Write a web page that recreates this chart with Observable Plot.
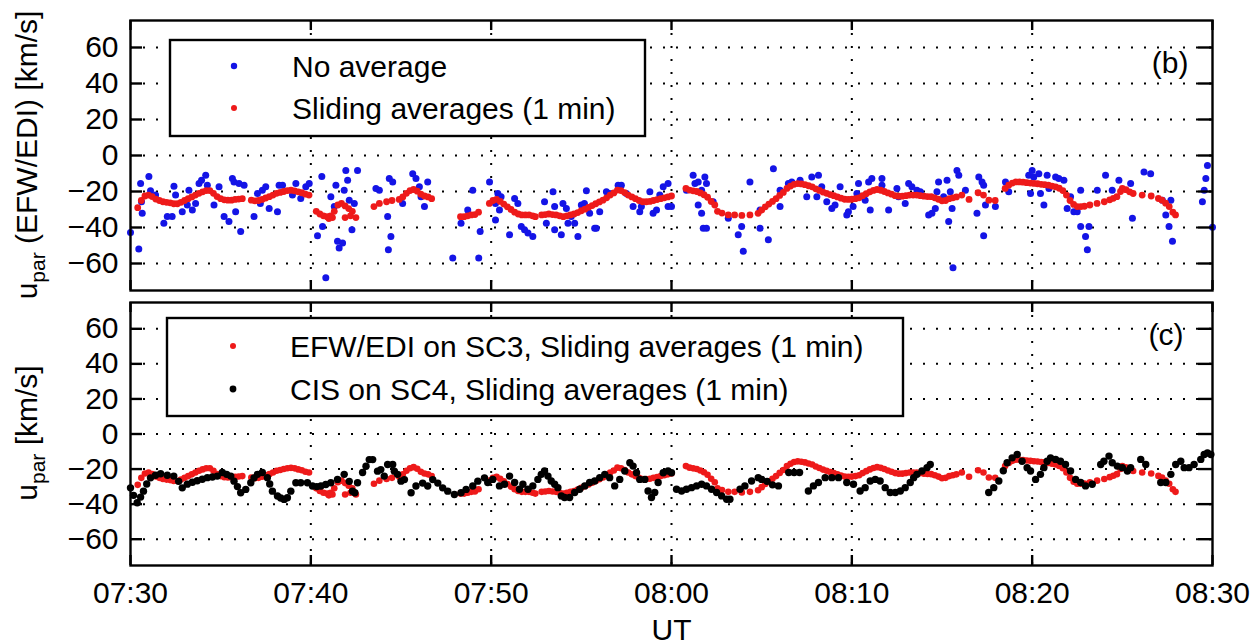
<!DOCTYPE html>
<html><head><meta charset="utf-8">
<script src="https://cdn.jsdelivr.net/npm/d3@7"></script>
<script src="https://cdn.jsdelivr.net/npm/@observablehq/plot@0.6"></script>
<style>
body{margin:0;background:#fff;font-family:"Liberation Sans",Arial,sans-serif;}
#wrap{position:relative;width:1259px;height:644px;background:#fff;}
#p1{position:absolute;left:0;top:0;}
#p2{position:absolute;left:0;top:300px;}
</style></head><body><div id="wrap"><div id="p1"></div><div id="p2"></div></div>
<script>
// ---- axis ticks / labels ----
const xTicks = [0, 10, 20, 30, 40, 50, 60];                 // minutes after 07:30 UT
const xTickLabels = ["07:30", "07:40", "07:50", "08:00", "08:10", "08:20", "08:30"];
const yTicks = [-60, -40, -20, 0, 20, 40, 60];
const seriesB = ["No average", "Sliding averages (1 min)"];
const seriesC = ["EFW/EDI on SC3, Sliding averages (1 min)", "CIS on SC4, Sliding averages (1 min)"];
const panelLabels = ["(b)", "(c)"];
const xLabel = "UT";

// ---- EFW/EDI, no average (minutes after 07:30, km/s) ----
const rawT = [0.0,0.46,0.56,0.61,0.65,1.02,1.11,1.39,1.85,2.04,2.31,2.41,2.5,2.87,3.15,3.24,3.43,3.61,3.8,3.94,4.17,4.26,4.63,4.91,5.19,5.46,5.65,5.74,5.83,6.02,6.11,6.3,6.85,7.04,7.2,7.31,7.5,7.69,8.15,8.24,8.43,8.98,9.17,9.44,9.72,9.91,
10.37,10.61,10.65,10.83,11.11,11.3,11.39,11.48,11.57,11.76,11.85,11.94,12.04,12.13,12.28,12.41,12.59,13.61,13.8,14.26,14.35,14.44,14.3,14.54,15.09,15.65,15.83,16.02,16.11,16.3,16.48,17.87,18.33,18.7,18.98,19.31,19.39,19.91,
20.24,20.24,20.37,20.46,20.55,21.02,21.3,21.48,21.67,21.85,22.04,22.31,22.96,23.06,23.43,23.52,23.52,23.89,23.98,24.17,24.26,24.44,24.63,24.81,25.0,25.17,25.28,25.46,25.74,25.83,26.02,26.39,26.57,27.04,27.22,27.5,27.87,28.24,28.33,28.8,28.98,29.17,29.35,29.54,29.81,29.81,
30.0,30.83,31.2,31.3,31.48,31.67,31.85,31.94,31.48,31.67,31.76,31.94,32.31,33.15,33.7,33.89,33.98,34.35,34.91,34.91,35.37,35.65,36.02,36.02,36.48,36.67,37.13,37.5,37.78,38.06,38.15,38.33,38.61,38.89,39.07,39.35,39.72,39.81,
40.07,40.28,40.37,40.74,40.93,41.02,41.11,41.67,41.67,42.04,42.5,42.59,42.96,43.15,43.33,43.61,43.8,44.26,44.44,44.63,44.72,44.81,45.09,45.28,45.37,45.46,45.56,45.61,45.83,45.93,46.3,46.94,47.04,47.22,47.31,47.41,47.31,47.96,48.52,48.7,
49.81,50.0,50.09,50.37,49.91,50.46,50.65,50.83,50.93,51.3,51.48,51.76,51.94,52.13,52.31,52.5,52.69,52.69,52.96,53.06,53.15,53.61,54.07,54.44,54.81,55.46,55.56,56.2,56.57,57.22,57.41,57.59,57.69,57.78,59.44,59.54,59.63,59.72,60.0];
const rawV = [-42.8,-51.9,-15.6,-25.7,-32.1,-11.6,-19.6,-22,-37.6,-33.9,-33.9,-17.1,-22,-31.2,-27.5,-19.3,-30.3,-26.6,-15.6,-13.8,-11,-16.5,-27.5,-17.4,-33.9,-36.7,-12.8,-14.7,-31.2,-15.6,-42.2,-16.5,-33.9,-21.1,-26.6,-19.3,-17.4,-29.4,-31.2,-16.5,-16.5,-22,-15.6,-23.9,-17.4,-15.6,
-44.6,-11.6,-39.5,-67.9,-22.9,-28.4,-16.5,-47.7,-51.4,-48.6,-19.3,-8.3,-13.8,-24.8,-41.3,-26.6,-8.3,-18.4,-19.3,-33.9,-12.8,-45,-52.3,-14.7,-26.6,-10.1,-12.8,-17.4,-22.9,-28.4,-14.7,-56.9,-37.6,-30.3,-19.3,-56.9,-42.2,-14.7,
-26.6,-35.8,-21.1,-30.3,-22.9,-44,-23.9,-26.6,-39.5,-41.3,-43.1,-45,-25.7,-37.6,-20.2,-28.4,-41.3,-44,-26.6,-29.4,-37.6,-33.9,-37.6,-45,-27.5,-26.6,-19.6,-32.1,-40.4,-40.4,-31.2,-20.2,-21.1,-16.5,-16.5,-21.1,-28.4,-31.2,-28.4,-20.2,-32.1,-30.3,-22,-17.4,-15.6,-28.4,
-28.4,-19.3,-11,-15.6,-14.7,-19.3,-11.9,-15.6,-27.5,-32.1,-40.4,-40.4,-25.7,-34.9,-44,-39.5,-53.2,-14.7,-40.4,-30.3,-46.8,-7.3,-19.3,-28.4,-15.6,-14.7,-13.8,-22.9,-11.9,-22.9,-11,-17.4,-25.7,-29.4,-27.5,-17.4,-33,-31.2,
-28.4,-21.1,-15.6,-24.8,-14.7,-30.3,-12.8,-12.8,-16.5,-30.3,-18.3,-22.9,-26.6,-15.6,-17.4,-19.3,-20.2,-33,-32.1,-29.4,-20.2,-14.7,-22.9,-13.8,-36.7,-20.2,-29.4,-62.4,-8.3,-11,-19.3,-32.1,-11.9,-14.7,-16.5,-27.5,-44.6,-28.4,-14.7,-20.2,
-11,-8.3,-11.9,-10.1,-21.1,-21.1,-27.5,-11,-18.3,-11.9,-12.8,-13.8,-29.4,-22.9,-31.2,-31.2,-19.3,-39.5,-45,-52.3,-39.5,-19.3,-11,-19.3,-13.8,-15.6,-34.9,-9.2,-10.1,-24.8,-33,-39.5,-24.8,-47.7,-25.7,-19.3,-12.8,-5.5,-39.8];

// ---- EFW/EDI on SC3, sliding averages (1 min) ----
const avgT = [0.4,0.6,0.8,1.0,1.2,1.4,1.6,1.8,2.0,2.2,2.4,2.6,2.8,3.0,3.2,3.4,3.6,3.8,4.0,4.2,4.4,4.6,4.8,5.0,5.2,5.4,5.6,5.8,6.0,6.2,
6.7,6.9,7.1,7.3,7.5,7.7,7.9,8.1,8.3,8.5,8.7,8.9,9.1,9.3,9.5,9.7,9.9,
10.3,10.5,10.7,10.9,11.1,11.3,11.5,11.7,11.9,12.1,12.3,12.5,11.0,11.2,11.9,12.2,
13.5,13.8,14.2,14.5,14.9,15.1,15.3,15.5,15.7,15.9,16.1,16.3,16.5,16.7,
18.3,18.5,18.7,18.9,19.1,19.3,
19.9,20.1,20.3,20.5,20.7,20.9,21.1,21.3,21.5,21.7,21.9,22.1,22.3,22.45,
22.8,23.0,23.2,23.4,23.6,23.8,24.0,24.2,24.4,24.6,24.8,25.0,25.2,25.4,25.6,25.8,26.0,26.2,26.4,26.6,26.8,27.0,27.2,27.4,27.6,27.8,28.0,28.2,28.4,28.6,28.8,29.0,29.2,29.4,29.6,29.8,30.0,
30.8,31.0,31.2,31.4,31.6,31.8,32.0,32.2,32.4,32.55,32.8,33.15,33.5,33.9,34.35,34.8,35.0,35.2,35.4,35.6,35.8,36.0,36.2,36.4,36.6,36.8,37.0,37.2,37.4,37.6,37.8,38.0,38.2,38.4,38.6,38.8,39.0,39.2,39.4,39.6,39.8,40.0,40.2,
40.4,40.6,40.8,41.0,41.2,41.4,41.6,41.8,42.0,42.2,42.4,42.6,42.8,43.0,43.2,43.4,43.6,43.8,44.0,44.2,44.4,44.6,44.8,45.0,45.2,45.4,45.6,45.8,46.1,46.5,47.0,47.3,47.6,47.95,
48.5,48.7,48.9,49.1,49.3,49.5,49.7,49.9,50.1,50.3,50.5,50.7,50.9,51.1,51.3,51.5,51.7,51.9,52.1,52.3,52.5,52.7,52.9,53.2,53.6,54.0,54.3,54.5,54.7,54.9,55.0,55.2,55.4,55.6,56.1,56.6,57.0,57.2,57.4,57.6,57.8,57.95];
const avgV = [-29,-25,-22.5,-22,-22.8,-24.2,-25,-25.7,-26,-26.3,-26.8,-26.8,-26,-25,-24,-23,-22,-21,-20.2,-19.5,-19.5,-21,-22.8,-24,-24.6,-24.8,-24.8,-24.4,-24.2,-24,
-24.8,-25.2,-25,-24.4,-23.6,-22.9,-22,-21,-20.5,-20,-19.5,-19.3,-19.6,-20.2,-20.7,-21.5,-22,
-31,-32.5,-33.5,-34,-33.5,-31,-27.5,-26.6,-28,-29.5,-31,-34.5,-35,-34.5,-34.5,-33.5,
-28.4,-26.6,-25.7,-25,-24.4,-23,-21,-19.5,-18.9,-19.8,-21.5,-22.5,-23,-24,
-34,-34,-33.5,-33,-32.8,-31.5,
-26.6,-25,-24.4,-25.5,-27,-28.5,-30,-31.5,-32.5,-33,-33,-33,-33.5,-34,
-33,-32.8,-32.5,-32.8,-33,-33.5,-34,-33.5,-33,-32.5,-31.7,-30.7,-29.8,-28.8,-27.8,-26.8,-25.8,-24.8,-23.5,-22,-20.8,-19.2,-19.5,-20.6,-22,-23,-24,-25,-25.7,-25.7,-25.5,-25,-24.5,-24,-23.5,-23,-22.5,
-18.3,-19.2,-19.6,-20,-20.8,-21.8,-23.2,-25.5,-27.5,-31,-32,-33,-33,-33.3,-33,-32.1,-30.3,-28.5,-27,-25.5,-24,-22.2,-20.5,-18.3,-17,-16,-15.6,-15.8,-16.2,-16.8,-17.4,-18.5,-19.4,-20.3,-21,-21.7,-22.3,-23,-23.7,-24.3,-24.4,-24.3,-24,
-23.5,-22.3,-21.2,-20.2,-19.4,-18.9,-19.3,-20,-20.8,-21.5,-22.3,-22.6,-22.6,-22.3,-22,-22,-22,-22.3,-22.6,-22.8,-22.9,-23.5,-24.3,-25.2,-25,-24,-23.5,-23,-22,-24.4,-20.7,-22,-24.8,-25,
-18.3,-16.5,-15.3,-14.7,-14.7,-14.8,-15.1,-15.3,-15.5,-15.7,-16,-16.2,-16.5,-17,-17.4,-18.2,-19.5,-22,-25,-27.2,-28.4,-28.4,-28.2,-27.5,-26.6,-25.7,-24.6,-23.8,-22.9,-20,-18.3,-19,-20.2,-21.1,-22,-22.5,-23.9,-24.8,-26.5,-28.4,-31.5,-33];

// ---- CIS on SC4, sliding averages (1 min) ----
const cisT = [0,0.17,0.37,0.56,0.72,0.9,1.11,1.39,1.67,2.04,2.4,2.67,2.87,3.15,3.43,3.7,3.98,4.26,4.54,4.81,5.09,5.33,5.56,5.74,5.93,6.11,6.39,6.67,6.85,7.04,7.31,7.59,7.72,7.87,8.15,8.33,8.52,8.7,8.89,9.17,9.44,9.81,
10.09,10.33,10.56,10.83,11.11,11.48,11.85,12.13,12.31,12.44,12.59,12.87,13.06,13.24,13.43,13.7,13.88,14.07,14.26,14.54,14.63,14.81,15.0,15.19,15.56,15.83,16.2,16.48,16.76,17.04,17.31,17.59,17.96,18.33,18.61,18.98,19.26,19.63,19.81,
20.09,20.46,20.74,21.02,21.3,21.57,21.76,22.04,22.31,22.59,22.78,22.96,23.15,23.33,23.52,23.7,23.89,24.07,24.35,24.63,24.91,25.19,25.46,25.74,26.02,26.3,26.57,26.85,27.13,27.41,27.69,27.87,28.06,28.24,28.52,28.7,28.89,29.07,29.26,29.54,29.81,
30.0,30.28,30.56,30.83,31.11,31.39,31.67,31.94,32.22,32.5,32.78,33.06,33.24,33.8,34.07,34.44,34.81,35.0,35.3,35.6,35.93,36.5,36.8,37.1,37.59,37.87,38.15,38.52,38.89,39.26,39.72,
40.09,40.46,40.74,41.02,41.3,41.57,41.85,42.13,42.41,42.69,42.96,43.24,43.43,43.61,43.89,44.17,44.35,47.59,47.87,48.15,48.4,48.61,48.89,49.17,49.44,49.72,49.91,
50.19,50.46,50.65,50.83,51.02,51.3,51.57,51.85,52.13,52.41,52.69,52.96,53.33,53.8,53.98,54.26,54.44,54.72,55.0,55.28,55.46,56.02,56.3,57.13,57.41,57.69,57.96,58.24,58.43,58.7,58.98,59.35,59.54,59.72,59.91];
const cisV = [-30.7,-35,-39.2,-36,-32.6,-28.5,-25,-23.5,-22.7,-23.5,-24,-27,-30.7,-28.6,-27.5,-26.7,-25.8,-24.9,-24.5,-24,-22,-23,-24,-26.9,-30,-33.5,-31.6,-27.8,-25,-23,-22,-24.9,-28.5,-32.6,-35.4,-36.5,-37.3,-36.4,-32.6,-27.8,-27.8,-27.8,
-29.7,-30,-29.7,-28.8,-27.8,-25.9,-23,-27,-32.6,-33.5,-27.8,-22,-18.4,-14.6,-14.6,-21.2,-20.3,-24,-17.4,-17.4,-21.2,-23,-26.9,-26,-33.5,-29.7,-28,-29.7,-26,-28,-30.7,-32.6,-34.5,-33.5,-31.6,-29.7,-26.9,-25,-27.7,
-25.9,-29.6,-28.7,-24,-27.7,-31.5,-28.7,-31.5,-29.6,-25.9,-23,-21.1,-24,-26.8,-28.7,-30.6,-35.3,-36.2,-36.2,-33.4,-31.5,-29.6,-27.7,-26.8,-24.9,-23,-24.9,-29.6,-25.9,-21.1,-16.4,-18.3,-22.1,-25.9,-25.9,-32.5,-36.2,-33.4,-27.7,-22.1,-21.1,
-22.1,-31.5,-32.5,-31.5,-30.6,-29.6,-28.7,-29.6,-31.5,-33.4,-35.3,-37.2,-37.2,-31.5,-29.6,-26.8,-24.9,-25.9,-27,-29,-29.6,-22,-22,-22,-32.5,-29.6,-27.7,-24.9,-24.9,-24.9,-27.7,
-28.7,-32.5,-30.6,-26.8,-25.9,-26.8,-30.6,-33.4,-33.4,-32.5,-30.6,-27.7,-24.9,-23,-21.1,-19.2,-17.4,-33.4,-30.6,-26.8,-21,-16.4,-13.6,-11.7,-15.5,-19.2,-21.1,
-25.9,-23,-19.2,-15.5,-13.6,-14.5,-15.5,-17.4,-21.1,-25.9,-27.7,-29.6,-28.7,-17.4,-15.5,-12.6,-16.4,-18.3,-19.2,-21.1,-19.2,-14.5,-17.4,-27.7,-27.7,-23,-17.4,-15.5,-19.2,-19.2,-17.4,-14.5,-11.7,-10.8,-11.7];

const raw = rawT.map((t, i) => ({t, v: rawV[i]}));
const avg = avgT.map((t, i) => ({t, v: avgV[i]}));
const cis = cisT.map((t, i) => ({t, v: cisV[i]}));

const BLUE = "#1414e6", RED = "#ee1a1a", BLACK = "#000";
const FONT = "'Liberation Sans', Arial, Helvetica, sans-serif";
const W = 1259, ML = 130, MR = 47, PW = W - ML - MR;
const dotted = {stroke: "#000", strokeWidth: 2, strokeDasharray: "2,11"};

function panel(h, mt, mb, marks, extra) {
  const ph = h - mt - mb;
  return Plot.plot({
    width: W, height: h, marginTop: mt, marginBottom: mb, marginLeft: ML, marginRight: MR,
    style: {background: "#fff", fontFamily: FONT, fontSize: "30px", color: "#000", overflow: "visible"},
    x: {domain: [0, 60], axis: extra ? undefined : null},
    y: {domain: [-75, 75]},
    marks: [
      Plot.ruleY(yTicks, {y: d => d, ...dotted}),
      Plot.ruleX(xTicks.slice(1, -1), {x: d => d, ...dotted}),
      ...marks,
      Plot.frame({stroke: "#000", strokeWidth: 2.4}),
      Plot.tickY(yTicks, {y: d => d, stroke: "#000", strokeWidth: 2.4, insetRight: PW - 12}),
      Plot.tickY(yTicks, {y: d => d, stroke: "#000", strokeWidth: 2.4, insetLeft: PW - 14}),
      Plot.tickX(xTicks, {x: d => d, stroke: "#000", strokeWidth: 2.4, insetTop: ph - 10}),
      Plot.tickX(xTicks, {x: d => d, stroke: "#000", strokeWidth: 2.4, insetBottom: ph - 10}),
      Plot.axisY({ticks: yTicks, tickSize: 0, tickPadding: 12, label: null, fill: "#000"}),
      ...(extra || [])
    ]
  });
}

function addLegend(svg, box, rows, names, colors, radii, dotX, textX) {
  const g = d3.select(svg).append("g").attr("text-anchor", "start");
  g.append("rect").attr("x", box[0]).attr("y", box[1]).attr("width", box[2]).attr("height", box[3])
    .attr("fill", "#fff").attr("stroke", "#000").attr("stroke-width", 2.4);
  names.forEach((n, i) => {
    g.append("circle").attr("cx", dotX).attr("cy", rows[i]).attr("r", radii[i]).attr("fill", colors[i]);
    g.append("text").attr("x", textX).attr("y", rows[i] + 10.5).attr("text-anchor", "start")
      .attr("font-family", FONT).attr("font-size", 30).attr("fill", "#000").text(n);
  });
}

function addYLabel(svg, cx, cy, before, after) {
  const t = d3.select(svg).append("text").attr("transform", `translate(${cx},${cy}) rotate(-90)`)
    .attr("text-anchor", "middle").attr("font-family", FONT).attr("font-size", 30).attr("fill", "#000");
  t.append("tspan").text(before);
  t.append("tspan").attr("font-size", 21).attr("dy", 8).text("par");
  t.append("tspan").attr("dy", -8).text(after);
}

// Panel (b)
const svg1 = panel(300, 20, 10, [
  Plot.dot(raw, {x: "t", y: "v", r: 3.5, fill: BLUE}),
  Plot.dot(avg, {x: "t", y: "v", r: 3.4, fill: RED}),
  Plot.text([panelLabels[0]], {text: d => d, frameAnchor: "top-right", textAnchor: "end", lineAnchor: "top", dx: -24, dy: 31, fontSize: 30, fill: "#000"})
], null);
document.getElementById("p1").appendChild(svg1);
addLegend(svg1, [170, 40, 475, 96], [66, 108], seriesB, [BLUE, RED], [3.2, 3.0], 234, 292);
addYLabel(svg1, 37, 155, "u", " (EFW/EDI) [km/s]");

// Panel (c)
const svg2 = panel(344, 2, 79, [
  Plot.dot(avg, {x: "t", y: "v", r: 3.3, fill: RED}),
  Plot.dot(cis, {x: "t", y: "v", r: 3.7, fill: BLACK}),
  Plot.text([panelLabels[1]], {text: d => d, frameAnchor: "top-right", textAnchor: "end", lineAnchor: "top", dx: -29, dy: 21, fontSize: 30, fill: "#000"})
], [
  Plot.axisX({ticks: xTicks, tickSize: 0, tickPadding: 16, label: null, fill: "#000",
    tickFormat: d => xTickLabels[xTicks.indexOf(d)]}),
  Plot.text([xLabel], {text: d => d, frameAnchor: "bottom", lineAnchor: "top", dy: 53, fontSize: 30, fill: "#000"})
]);
document.getElementById("p2").appendChild(svg2);
addLegend(svg2, [167, 18, 736, 98], [46, 89], seriesC, [RED, BLACK], [3.0, 3.4], 233, 290);
addYLabel(svg2, 37, 133, "u", " [km/s]");
</script></body></html>
